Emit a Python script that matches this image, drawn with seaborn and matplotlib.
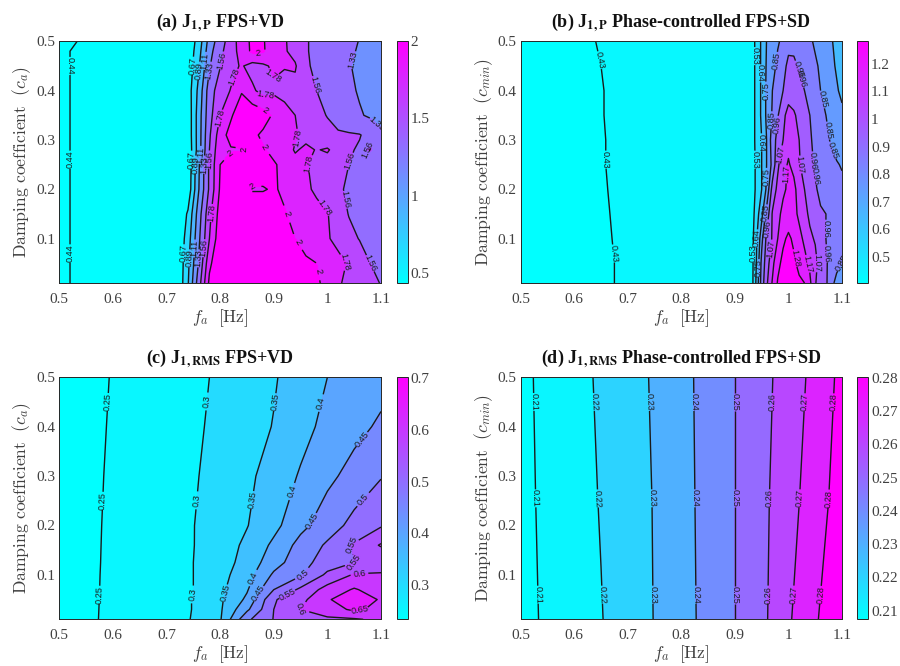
import numpy as np
import matplotlib
matplotlib.use("Agg")
import matplotlib.pyplot as plt
import seaborn as sns
from matplotlib.cm import ScalarMappable
from matplotlib.colors import Normalize

# ---------- data ----------
fa_a = [.5,.6,.72,.74,.76,.78,.80,.82,.84,.86,.88,.90,.92,.94,.96,.98,1.0,1.02,1.04,1.06,1.08,1.1]
ca_a = [.01,.05,.1,.15,.2,.25,.28,.31,.35,.4,.45,.48,.5]
J1P_VD = [
 [.435,.46,.46,.87,1.45,2.05,2.2,2.2,2.2,2.2,2.2,2.2,2.15,2.1,2.05,2.02,1.96,1.8,1.74,1.68,1.62,1.55],
 [.435,.46,.46,.84,1.35,1.95,2.2,2.2,2.2,2.2,2.2,2.2,2.12,2.05,2.03,2.0,1.92,1.84,1.76,1.68,1.56,1.53],
 [.435,.46,.46,.78,1.28,1.78,2.15,2.2,2.2,2.2,2.2,2.15,2.1,2.0,1.93,1.88,1.8,1.72,1.63,1.55,1.52,1.5],
 [.435,.46,.46,.7,1.22,1.72,2.1,2.2,2.2,2.2,2.2,2.1,2.02,1.93,1.9,1.85,1.79,1.68,1.55,1.52,1.48,1.48],
 [.435,.46,.46,.52,1.1,1.6,2.03,2.2,2.2,1.98,1.98,2.03,1.95,1.9,1.82,1.74,1.66,1.6,1.52,1.48,1.45,1.45],
 [.435,.46,.46,.5,1.08,1.6,2.0,2.1,2.15,2.15,2.15,2.02,1.95,1.85,1.79,1.74,1.7,1.65,1.56,1.5,1.48,1.46],
 [.435,.46,.46,.5,1.0,1.56,1.96,1.98,1.99,2.03,2.02,1.95,1.88,1.76,1.82,1.77,1.8,1.7,1.58,1.54,1.57,1.5],
 [.435,.46,.46,.52,1.0,1.53,1.9,2.08,2.1,2.05,1.96,1.8,1.85,1.8,1.72,1.68,1.63,1.58,1.58,1.57,1.5,1.4],
 [.435,.46,.46,.52,1.0,1.48,1.78,1.97,2.15,2.15,2.1,1.97,1.85,1.78,1.68,1.62,1.55,1.5,1.42,1.35,1.3,1.22],
 [.435,.46,.46,.55,.95,1.45,1.68,1.79,1.98,1.82,1.7,1.74,1.72,1.72,1.6,1.56,1.5,1.45,1.37,1.31,1.27,1.25],
 [.435,.46,.46,.52,.86,1.31,1.55,1.72,1.8,1.7,1.74,1.82,1.79,1.8,1.6,1.5,1.5,1.42,1.35,1.27,1.22,1.2],
 [.435,.46,.46,.51,.8,1.25,1.5,1.7,1.85,2.05,2.03,1.86,1.8,1.72,1.58,1.5,1.5,1.44,1.38,1.3,1.25,1.22],
 [.435,.45,.46,.5,.76,1.2,1.45,1.68,1.88,2.05,2.02,1.88,1.8,1.7,1.58,1.5,1.5,1.45,1.4,1.32,1.28,1.25],
]
levels_a = [.44,.67,.89,1.11,1.33,1.56,1.78,2]

fa_b = [.5,.6,.7,.8,.93,.94,.95,.96,.97,.98,.99,1.0,1.01,1.02,1.03,1.04,1.05,1.06,1.07,1.08,1.09,1.1]
ca_b = [.01,.05,.1,.15,.2,.25,.3,.35,.4,.45,.5]
J1P_SD = [
 [.41,.415,.435,.45,.455,.66,.9,1.06,1.18,1.29,1.33,1.33,1.32,1.3,1.28,1.19,1.08,1.0,.98,.88,.82,.8],
 [.41,.415,.435,.45,.46,.64,.88,1.03,1.14,1.25,1.31,1.32,1.3,1.25,1.2,1.15,1.1,1.02,.97,.93,.88,.85],
 [.41,.418,.435,.45,.46,.62,.82,1.0,1.08,1.17,1.26,1.3,1.26,1.2,1.15,1.09,1.06,.98,.96,.95,.93,.9],
 [.41,.418,.436,.45,.46,.58,.72,.9,1.08,1.14,1.2,1.22,1.2,1.15,1.1,1.05,1.0,.97,.96,.94,.93,.9],
 [.41,.42,.436,.45,.46,.55,.64,.78,1.0,1.1,1.15,1.19,1.2,1.12,1.07,1.02,.97,.94,.92,.92,.9,.88],
 [.41,.42,.437,.45,.46,.55,.64,.76,.88,1.05,1.14,1.18,1.14,1.08,1.03,.98,.95,.92,.9,.88,.86,.84],
 [.41,.42,.437,.45,.46,.56,.64,.76,.9,1.0,1.07,1.14,1.12,1.07,1.01,.97,.94,.9,.87,.84,.8,.8],
 [.41,.42,.438,.45,.46,.56,.66,.78,.86,.95,1.05,1.1,1.08,1.05,1.0,.96,.92,.88,.85,.82,.8,.77],
 [.41,.42,.438,.45,.46,.56,.66,.78,.85,.92,.96,1.03,1.03,1.0,.96,.92,.87,.85,.82,.78,.76,.73],
 [.41,.42,.44,.45,.46,.56,.66,.77,.82,.87,.92,.99,.98,.95,.92,.9,.86,.84,.82,.77,.74,.72],
 [.41,.42,.445,.45,.46,.56,.66,.76,.8,.84,.87,.92,.93,.92,.9,.86,.84,.82,.8,.76,.72,.7],
]
levels_b = [.43,.53,.64,.75,.85,.96,1.07,1.17,1.28]

fa_c = [.5,.55,.6,.65,.7,.75,.8,.85,.9,.95,1.0,1.05,1.1]
ca_c = [.01,.03,.05,.07,.1,.125,.16,.2,.3,.4,.5]
J1R_VD = [
 [.228,.24,.2617,.27,.285,.302,.345,.49,.552,.59,.592,.595,.61],
 [.229,.24,.261,.271,.286,.301,.343,.44,.55,.6,.625,.66,.635],
 [.23,.24,.2604,.272,.286,.301,.342,.41,.545,.585,.645,.68,.645],
 [.23,.24,.2598,.272,.286,.3,.338,.395,.5,.56,.62,.655,.625],
 [.231,.24,.2592,.272,.286,.3,.333,.379,.458,.494,.56,.605,.61],
 [.231,.24,.2585,.272,.286,.3,.328,.368,.43,.48,.525,.55,.552],
 [.232,.24,.2579,.271,.286,.299,.325,.36,.41,.467,.507,.555,.605],
 [.23,.24,.2572,.27,.285,.299,.322,.348,.386,.436,.477,.515,.545],
 [.23,.24,.2552,.267,.282,.296,.315,.34,.37,.405,.438,.468,.497],
 [.23,.24,.2532,.266,.279,.293,.31,.331,.352,.383,.414,.435,.458],
 [.23,.24,.2516,.265,.277,.291,.306,.326,.346,.372,.4,.416,.432],
]
levels_c = [.25,.3,.35,.4,.45,.5,.55,.6,.65]

fa_d = [.5,.55,.6,.65,.7,.75,.8,.85,.9,.95,1.0,1.05,1.1]
ca_d = [.01,.25,.5]
J1R_SD = [
 [.207,.2115,.2153,.2196,.2248,.2303,.2364,.2429,.25,.2575,.2687,.2794,.2845],
 [.2072,.2122,.2162,.2205,.2253,.2305,.2368,.2431,.25,.2578,.2655,.2765,.2835],
 [.2075,.2128,.2172,.2212,.2258,.2312,.2372,.2433,.25,.2575,.2635,.2735,.2825],
]
levels_d = [.21,.22,.23,.24,.25,.26,.27,.28]

titles = [r"(a) J$_{\mathbf{1,P}}$ FPS+VD",
          r"(b) J$_{\mathbf{1,P}}$ Phase-controlled FPS+SD",
          r"(c) J$_{\mathbf{1,RMS}}$ FPS+VD",
          r"(d) J$_{\mathbf{1,RMS}}$ Phase-controlled FPS+SD"]
ylabels = [r"$\mathrm{Damping\ coefficient}\ \ (c_a)$", r"$\mathrm{Damping\ coefficient}\ \ (c_{min})$",
           r"$\mathrm{Damping\ coefficient}\ \ (c_a)$", r"$\mathrm{Damping\ coefficient}\ \ (c_{min})$"]
xlabel = r"$f_a\ \ [\mathrm{Hz}]$"
x_ticks = [.5,.6,.7,.8,.9,1,1.1]
y_ticks = [.1,.2,.3,.4,.5]
cbar_ticks = [[.5,1,1.5,2], [.5,.6,.7,.8,.9,1,1.1,1.2], [.3,.4,.5,.6,.7],
              [.21,.22,.23,.24,.25,.26,.27,.28]]
cbar_limits = [(.433,2.0), (.405,1.282), (.234,.702), (.2074,.2802)]

# label placement hints: level -> places near which its label sits
hints_a = {.44:[(.523,.45),(.523,.26),(.523,.07)],
           .67:[(.755,.45),(.745,.26),(.735,.07)],
           .89:[(.765,.44),(.752,.25),(.742,.06)],
           1.11:[(.775,.46),(.76,.27),(.75,.08)],
           1.33:[(.785,.44),(.77,.25),(.76,.06),(1.055,.46),(1.09,.33)],
           1.56:[(.81,.46),(.785,.26),(.775,.08),(.97,.41),(1.07,.29),(1.06,.25),(1.04,.18),(1.08,.05)],
           1.78:[(.82,.43),(.82,.34),(.80,.15),(.9,.43),(.885,.39),(.93,.31),(.97,.25),(.98,.15),(1.03,.05)],
           2:[(.87,.488),(.885,.36),(.88,.285),(.85,.28),(.85,.21),(.925,.15),(.94,.09),(.99,.035),(.81,.28)]}
hints_b = {.43:[(.64,.46),(.66,.26),(.675,.07)],
           .53:[(.94,.47),(.94,.26),(.94,.07)],
           .64:[(.95,.435),(.95,.295),(.947,.10)],
           .75:[(.96,.40),(.96,.225),(.95,.04)],
           .85:[(.98,.46),(.965,.34),(.965,.15),(1.055,.38),(1.08,.32),(1.06,.27),(1.075,.13)],
           .96:[(1.01,.44),(1.045,.43),(.985,.33),(1.065,.26),(1.07,.23),(1.09,.12),(.965,.12),(1.07,.07)],
           1.07:[(.99,.27),(1.02,.25),(1.06,.05),(.965,.08)],
           1.17:[(1.0,.23),(1.04,.05)],
           1.28:[(1.01,.06)]}
hints_c = {.25:[(.59,.45),(.58,.25),(.57,.06)],
           .3:[(.785,.45),(.765,.25),(.75,.06)],
           .35:[(.9,.45),(.87,.25),(.82,.06)],
           .4:[(.98,.45),(.93,.27),(.87,.09)],
           .45:[(1.07,.37),(.97,.21),(.89,.05)],
           .5:[(1.08,.24),(.96,.09)],
           .55:[(1.04,.16),(1.05,.12),(.93,.05)],
           .6:[(1.06,.09),(.92,.02)],
           .65:[(1.06,.03)]}
x_d = {.21:(.527,.533,.54),.22:(.64,.65,.655),.23:(.74,.745,.75),.24:(.825,.826,.83),
       .25:(.9,.9,.9),.26:(.965,.965,.963),.27:(1.02,1.02,1.01),.28:(1.07,1.065,1.055)}
hints_d = {l:[(x_d[l][0],.45),(x_d[l][1],.255),(x_d[l][2],.06)] for l in levels_d}

# ---------- theme ----------
sns.set_theme(style="ticks")
plt.rcParams.update({
    "font.family": ["Liberation Serif", "DejaVu Serif"],
    "mathtext.fontset": "cm",
    "axes.edgecolor": "#262626", "axes.linewidth": 0.7,
    "xtick.color": "#404040", "ytick.color": "#404040",
    "xtick.labelcolor": "#404040", "ytick.labelcolor": "#404040",
})
cool = sns.color_palette("cool", as_cmap=True)

W, H = 900, 666
fig = plt.figure(figsize=(9, 6.66), dpi=100, facecolor="white")


def rect(x0, x1, y0, y1):
    return [x0 / W, 1 - y1 / H, (x1 - x0) / W, (y1 - y0) / H]


panels = [
    (fa_a, ca_a, J1P_VD, levels_a, hints_a, 59.3, 381, 41.3, 283, 396.7, 407.7),
    (fa_b, ca_b, J1P_SD, levels_b, hints_b, 520.7, 842, 41.3, 283, 857.3, 868.3),
    (fa_c, ca_c, J1R_VD, levels_c, hints_c, 59.3, 381, 377.3, 619.3, 396.7, 407.7),
    (fa_d, ca_d, J1R_SD, levels_d, hints_d, 520.7, 842, 377.3, 619.3, 857.3, 868.3),
]

for i, (fa, ca, Z, levels, hints, x0, x1, y0, y1, cx0, cx1) in enumerate(panels):
    ax = fig.add_axes(rect(x0, x1, y0, y1))
    cax = fig.add_axes(rect(cx0, cx1, y0, y1))
    vmin, vmax = cbar_limits[i]
    norm = Normalize(vmin, vmax)
    Z = np.array(Z, dtype=float)
    edges = [min(vmin, Z.min()) - 1] + list(levels) + [max(vmax, Z.max()) + 1]
    cols = [cool(0.0)] + [cool(norm(l)) for l in levels]
    ax.contourf(fa, ca, Z, levels=edges, colors=cols)
    cs = ax.contour(fa, ca, Z, levels=levels, colors="k", linewidths=1.0)
    ax.set_xlim(.5, 1.1)
    ax.set_ylim(.01, .5)
    ax.clabel(cs, manual=[], inline=True, inline_spacing=1, fontsize=6.6, fmt="%g", colors="k")
    for k, lev in enumerate(levels):
        cs.labelIndiceList = [k]
        for (hx, hy) in hints.get(lev, []):
            cs.add_label_near(hx, hy, inline=True, inline_spacing=1)
    for t in cs.labelTexts:
        t.set_fontfamily("Liberation Sans")
    ax.set_xticks(x_ticks, [f"{v:g}" for v in x_ticks])
    ax.set_yticks(y_ticks, [f"{v:g}" for v in y_ticks])
    ax.tick_params(axis="x", direction="in", length=3, width=0.6, top=True, labelsize=11, pad=7)
    ax.tick_params(axis="y", direction="in", length=3, width=0.6, right=True, labelsize=11, pad=3)
    ax.set_xlabel(xlabel, fontsize=12.5, color="#404040", labelpad=1)
    ax.set_ylabel(ylabels[i], fontsize=12.7, color="#404040", labelpad=2)
    ax.set_title(titles[i], fontsize=13, fontweight="bold", color="#111111",
                 pad=10, math_fontfamily="stix")
    cb = fig.colorbar(ScalarMappable(norm=norm, cmap=cool), cax=cax)
    cb.set_ticks(cbar_ticks[i], labels=[f"{v:g}" for v in cbar_ticks[i]])
    cb.ax.tick_params(direction="in", length=2.5, width=0.6, labelsize=11, pad=2)
    cb.outline.set_linewidth(0.7)
    cb.outline.set_edgecolor("#262626")

fig.savefig("out.png", dpi=100)
